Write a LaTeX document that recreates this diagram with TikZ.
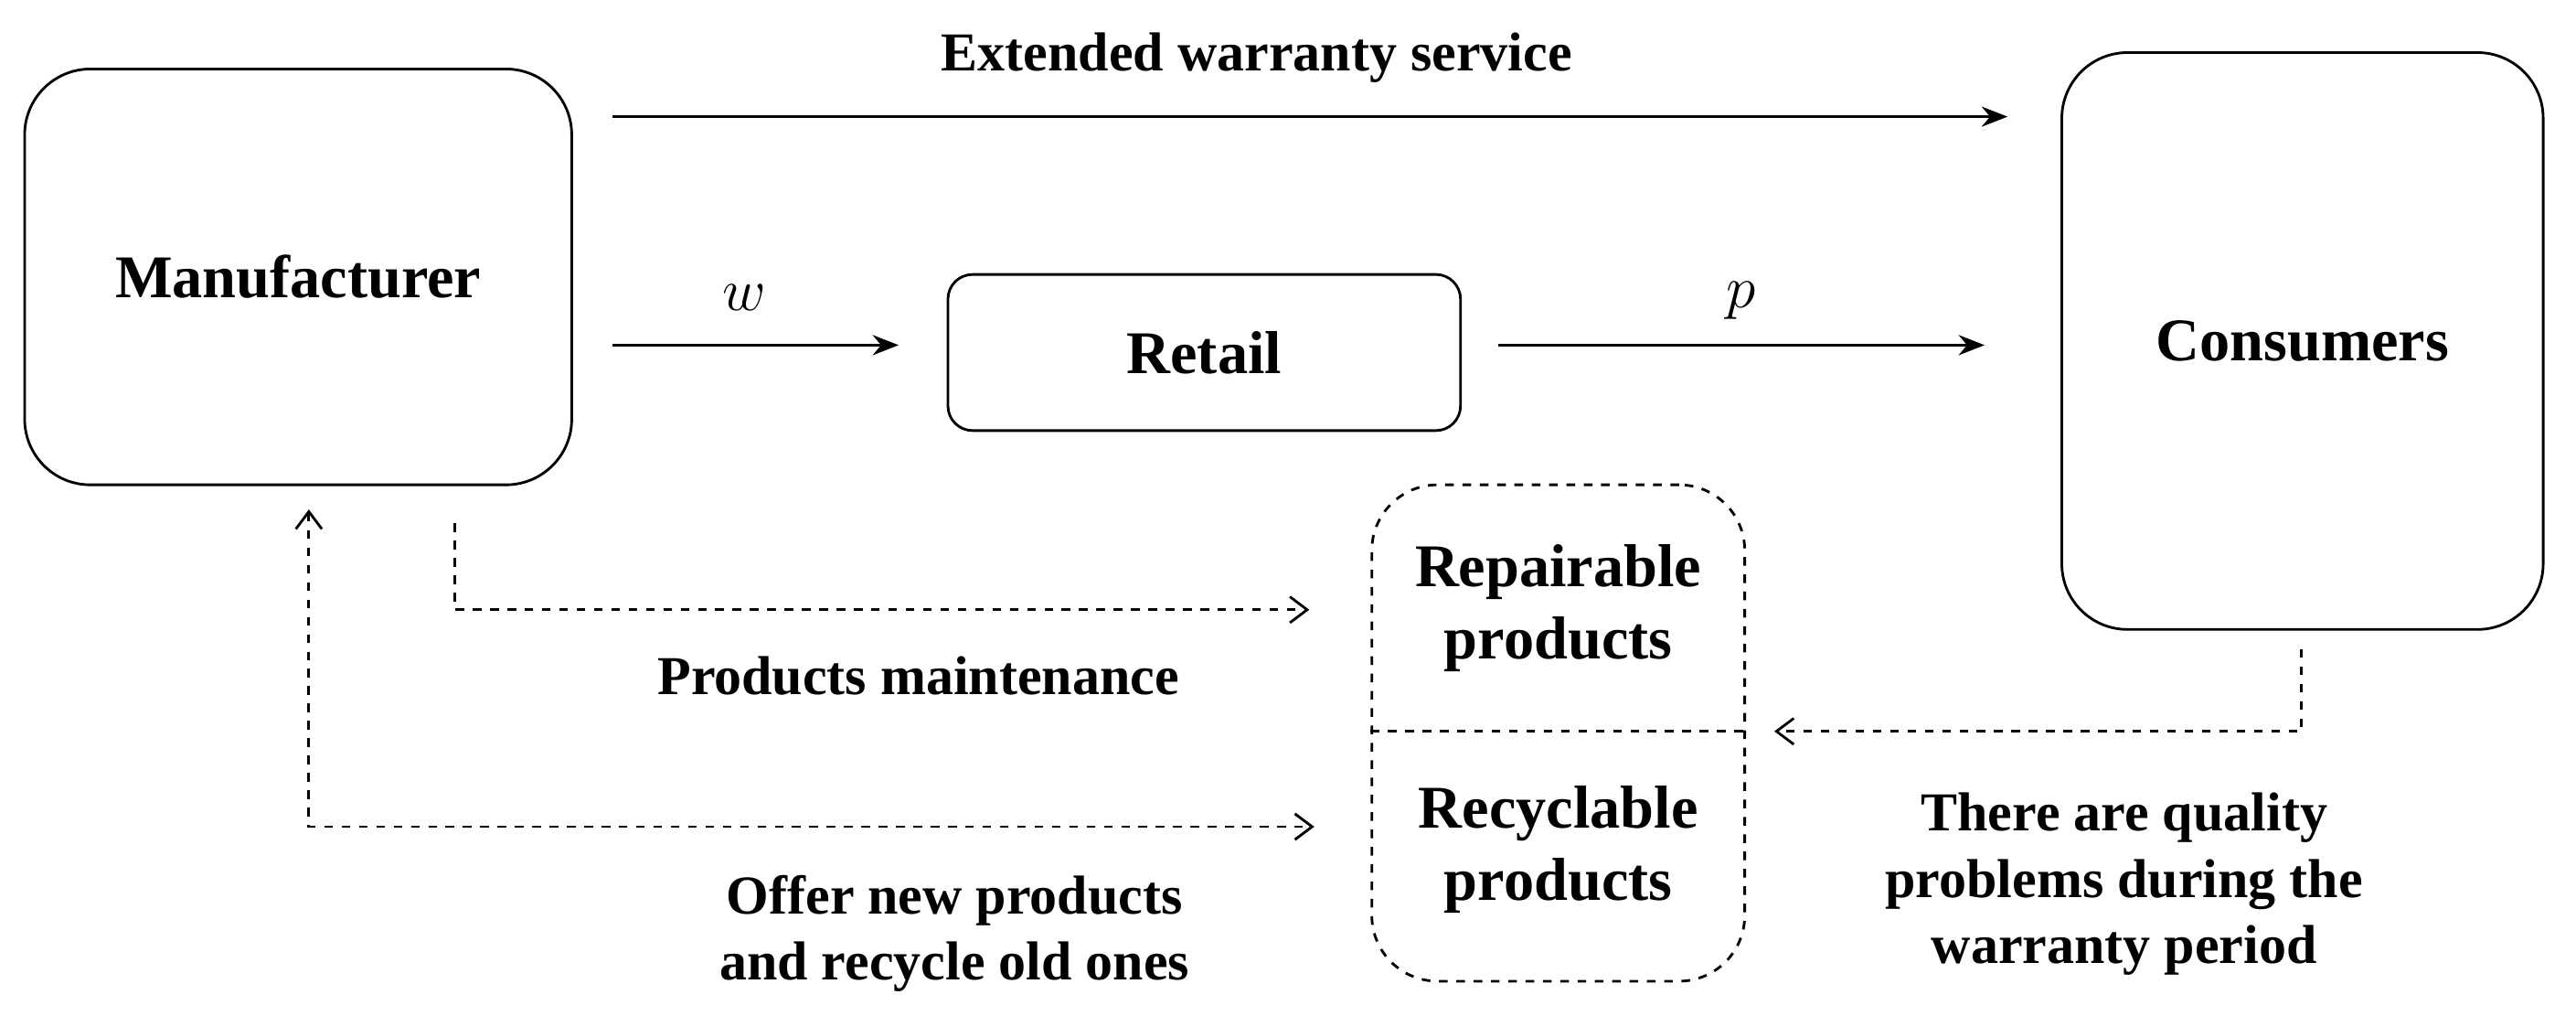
\documentclass[tikz,border=0pt]{standalone}
\usepackage{fontspec}
\setmainfont{Liberation Serif}
\usetikzlibrary{arrows.meta}
\begin{document}
\begin{tikzpicture}[
  box/.style={draw,line width=0.9pt,rounded corners=0.8cm,font=\bfseries\fontsize{21}{25}\selectfont,align=center},
  lab/.style={font=\bfseries\fontsize{19}{23}\selectfont,align=center},
  solidarrow/.style={-{Stealth[length=9pt,width=7pt]},line width=0.9pt},
  dasharrow/.style={dashed,line width=0.9pt,{Straight Barb[length=6pt,width=9pt]}-{Straight Barb[length=6pt,width=9pt]}},
  darrow/.style={dashed,line width=0.9pt,-{Straight Barb[length=6pt,width=9pt]}}]
\useasboundingbox (0,0) rectangle (31.36,12.36);
\node[box,minimum width=6.66cm,minimum height=5.06cm] (man) at (3.63,8.99) {Manufacturer};
\node[box,minimum width=5.86cm,minimum height=7.02cm] (con) at (28.03,8.21) {Consumers};
\node[box,rounded corners=0.3cm,minimum width=6.24cm,minimum height=1.9cm] (ret) at (14.66,8.07) {Retail};
\node[box,dashed,minimum width=4.54cm,minimum height=6.04cm] (rp) at (18.97,3.44) {};
\draw[dashed,line width=0.9pt] (rp.west |- 0,3.46) -- (rp.east |- 0,3.46);
\node[lab,font=\bfseries\fontsize{21}{25}\selectfont] (rep) at (18.97,4.96) {Repairable\\products};
\node[lab,font=\bfseries\fontsize{21}{25}\selectfont] (rec) at (18.97,2.02) {Recyclable\\products};
% top arrow
\coordinate (t1) at (7.46,10.94); \coordinate (t2) at (24.44,10.94);
\draw[solidarrow] (t1) -- (t2);
\node[lab] (ext) at (15.3,11.66) {Extended warranty service};
% w, p
\coordinate (w1) at (7.46,8.16); \coordinate (w2) at (10.94,8.16);
\draw[solidarrow] (w1) -- (w2);
\node[font=\itshape\fontsize{21}{25}\selectfont] (wl) at (9.06,8.74) {$w$};
\coordinate (p1) at (18.24,8.16); \coordinate (p2) at (24.16,8.16);
\draw[solidarrow] (p1) -- (p2);
\node[font=\fontsize{21}{25}\selectfont] (pl) at (21.2,8.7) {$p$};
% maintenance
\coordinate (m1) at (5.54,5.99); \coordinate (m2) at (5.54,4.94); \coordinate (m3) at (15.94,4.94);
\draw[darrow] (m1) -- (m2) -- (m3);
\node[lab] (ml) at (11.18,4.14) {Products maintenance};
% offer
\coordinate (o1) at (3.76,6.16); \coordinate (o2) at (3.76,2.3); \coordinate (o3) at (16.0,2.3);
\draw[dasharrow] (o1) -- (o2) -- (o3);
\node[lab] (ol) at (11.62,1.0) {Offer new products\\and recycle old ones};
% consumers
\coordinate (c1) at (28.02,4.46); \coordinate (c2) at (28.02,3.46); \coordinate (c3) at (21.6,3.46);
\draw[darrow] (c1) -- (c2) -- (c3);
\node[lab] (cl) at (25.86,1.6) {There are quality\\problems during the\\warranty period};
\end{tikzpicture}
\end{document}
